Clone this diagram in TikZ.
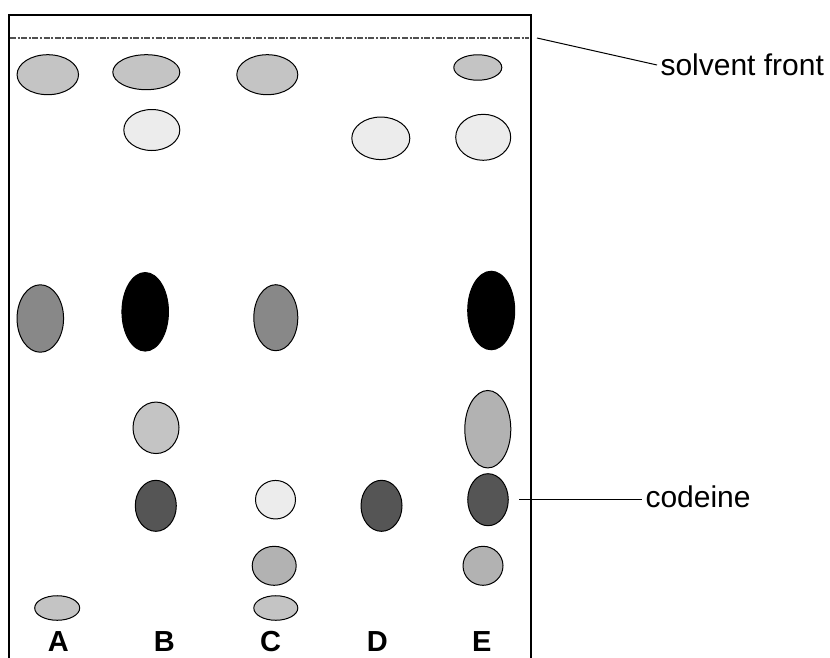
\documentclass[tikz,border=0pt]{standalone}
\usepackage{fontspec}
\setmainfont{Liberation Sans}
\usetikzlibrary{shapes.geometric}

\definecolor{spotlight}{RGB}{236,236,236}
\definecolor{spotpale}{RGB}{196,196,196}
\definecolor{spotmid}{RGB}{178,178,178}
\definecolor{spotgrey}{RGB}{136,136,136}
\definecolor{spotdark}{RGB}{85,85,85}
\definecolor{frontgrey}{RGB}{80,80,80}

\tikzset{every picture/.style={line width=0.75pt}}
\tikzset{
  spot/.style={ellipse, draw=black, line width=0.75pt, inner sep=0pt},
  lanelabel/.style={inner sep=0pt, font=\fontsize{21.75}{26}\selectfont\bfseries},
  sidetext/.style={anchor=west, inner sep=2.25pt, font=\fontsize{22.5}{27}\selectfont}
}

\begin{document}
\begin{tikzpicture}[x=0.75pt,y=0.75pt,yscale=-1,xscale=1]
    \useasboundingbox (0,0) rectangle (830,657);

    %Plate
    \draw [line width=1.6]  (9,662) -- (9,15) -- (531,15) -- (531,662) ;
    %Solvent front line
    \coordinate (front-l) at (10,38);
    \coordinate (front-r) at (529,38);
    \draw [color=frontgrey, line width=1.6, dash pattern=on 4.5pt off 1.2pt on 1.5pt off 1.2pt]  (front-l) -- (front-r) ;

    %Shape: Ellipse (lane A)
    \node [spot, fill=spotpale, minimum width=46.1pt, minimum height=30pt] (a1) at (47.8,74.7) {};
    \node [spot, fill=spotgrey, minimum width=34.9pt, minimum height=50.6pt] (a2) at (40.3,318.5) {};
    \node [spot, fill=spotpale, minimum width=33.75pt, minimum height=18.4pt] (a3) at (57.2,608) {};
    %Shape: Ellipse (lane B)
    \node [spot, fill=spotpale, minimum width=50.25pt, minimum height=26.25pt] (b1) at (146.3,72.2) {};
    \node [spot, fill=spotlight, minimum width=42pt, minimum height=30.75pt] (b2) at (151.8,130) {};
    \node [spot, fill=black, minimum width=34.9pt, minimum height=58.9pt] (b3) at (145.2,311.8) {};
    \node [spot, fill=spotpale, minimum width=34.5pt, minimum height=38.6pt] (b4) at (156,427.8) {};
    \node [spot, fill=spotdark, minimum width=30.75pt, minimum height=38.25pt] (b5) at (155.8,505.8) {};
    %Shape: Ellipse (lane C)
    \node [spot, fill=spotpale, minimum width=45.75pt, minimum height=30pt] (c1) at (267.3,74.7) {};
    \node [spot, fill=spotgrey, minimum width=33pt, minimum height=49.5pt] (c2) at (275.8,317.7) {};
    \node [spot, fill=spotlight, minimum width=30pt, minimum height=28.9pt] (c3) at (275.5,499.7) {};
    \node [spot, fill=spotmid, minimum width=33pt, minimum height=29.25pt] (c4) at (274.2,565.8) {};
    \node [spot, fill=spotpale, minimum width=33pt, minimum height=18.4pt] (c5) at (275.8,608) {};
    %Shape: Ellipse (lane D)
    \node [spot, fill=spotlight, minimum width=43.5pt, minimum height=31.9pt] (d1) at (380.8,138.3) {};
    \node [spot, fill=spotdark, minimum width=30.75pt, minimum height=38.25pt] (d2) at (381.5,505.8) {};
    %Shape: Ellipse (lane E)
    \node [spot, fill=spotpale, minimum width=36pt, minimum height=19.1pt] (e1) at (477.8,67.5) {};
    \node [spot, fill=spotlight, minimum width=41.25pt, minimum height=34.5pt] (e2) at (483.2,137.3) {};
    \node [spot, fill=black, minimum width=35.25pt, minimum height=58.9pt] (e3) at (491.2,310.5) {};
    \node [spot, fill=spotmid, minimum width=34.5pt, minimum height=58.1pt] (e4) at (487.8,429.2) {};
    \node [spot, fill=spotdark, minimum width=30.4pt, minimum height=39pt] (e5) at (488,499.7) {};
    \node [spot, fill=spotmid, minimum width=30pt, minimum height=29.25pt] (e6) at (483,565.8) {};

    % Text Node
    \node [lanelabel] (lab-a) at (58.3,641.5) {A};
    % Text Node
    \node [lanelabel] (lab-b) at (164.3,641.5) {B};
    % Text Node
    \node [lanelabel] (lab-c) at (270.5,641.5) {C};
    % Text Node
    \node [lanelabel] (lab-d) at (377.3,641.5) {D};
    % Text Node
    \node [lanelabel] (lab-e) at (481.7,641.5) {E};

    % Text Node
    \node [sidetext] (solvent) at (657,65) {solvent front};
    \coordinate (solvent-tip) at (537,38);
    \draw    (solvent-tip) -- (solvent.west) ;
    % Text Node
    \node [sidetext] (codeine) at (642,497) {codeine};
    \coordinate (codeine-tip) at (519,499);
    \draw    (codeine-tip) -- (codeine-tip -| codeine.west) ;
\end{tikzpicture}
\end{document}
